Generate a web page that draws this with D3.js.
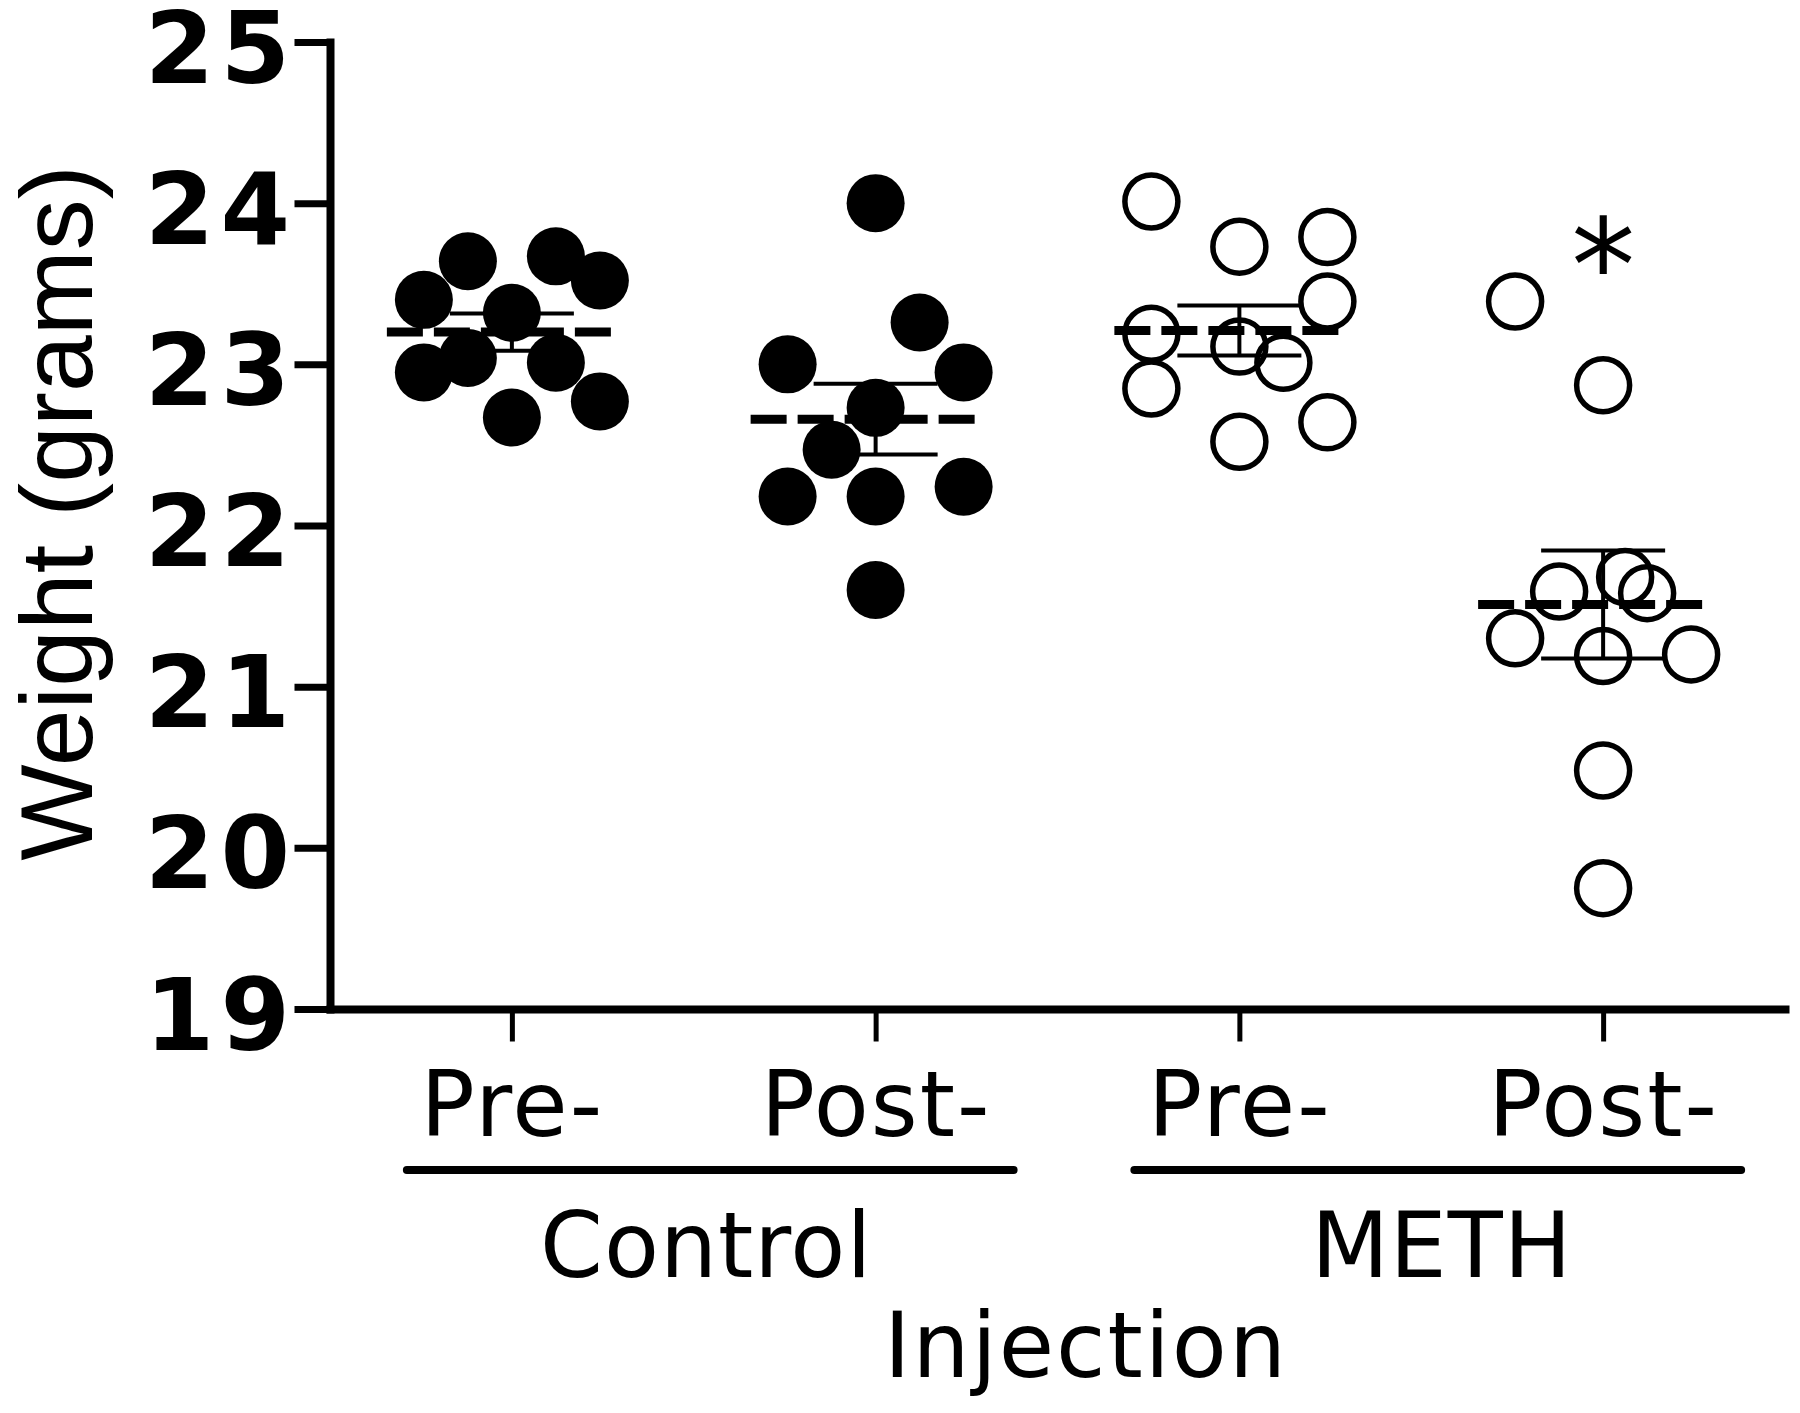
<!DOCTYPE html>
<html>
<head>
<meta charset="utf-8">
<script src="https://cdn.jsdelivr.net/npm/d3@7"></script>
<style>
  html, body { margin: 0; padding: 0; background: #fff; }
  svg { display: block; }
</style>
</head>
<body>
<div id="chart"></div>
<script>
// ---------------- data ----------------
const categories = ["Control Pre-", "Control Post-", "METH Pre-", "METH Post-"];
const tickLabels = ["Pre-", "Post-", "Pre-", "Post-"];
const groupNames = ["Control", "METH"];
const groupMembers = [["Control Pre-", "Control Post-"], ["METH Pre-", "METH Post-"]];
const filled = [true, true, false, false];

const controlPre  = [23.40, 23.64, 23.67, 23.52, 23.32, 22.95, 23.04, 23.01, 22.77, 22.67];
const controlPreSlot  = [-2, -1, 1, 2, 0, -2, -1, 1, 2, 0];
const controlPost = [24.00, 23.26, 23.00, 22.95, 22.73, 22.47, 22.18, 22.18, 22.24, 21.60];
const controlPostSlot = [0, 1, -2, 2, 0, -1, -2, 0, 2, 0];
const methPre     = [24.01, 23.73, 23.79, 23.39, 23.19, 23.11, 23.01, 22.85, 22.64, 22.52];
const methPreSlot     = [-2, 0, 2, 2, -2, 0, 1, -2, 2, 0];
const methPost    = [23.39, 22.87, 21.59, 21.68, 21.58, 21.30, 21.19, 21.20, 20.48, 19.75];
const methPostSlot    = [-2, 0, -1, 0.5, 1, -2, 0, 2, 0, 0];

const means = [23.20, 22.66, 23.21, 21.51];
const sems  = [0.115, 0.22, 0.155, 0.335];

const yTicks = [19, 20, 21, 22, 23, 24, 25];
const yLabel = "Weight (grams)";
const xLabel = "Injection";
const significance = {category: "METH Post-", label: "*", value: 23.33};

// ---------------- layout ----------------
const W = 1800, H = 1413;
const svg = d3.select("#chart").append("svg").attr("width", W).attr("height", H)
  .style("background", "#fff");

const x = d3.scalePoint().domain(categories).range([330, 1785]).padding(0.5);
const y = d3.scaleLinear().domain([19, 25]).range([1009, 42]);
const slotW = 44;

const series = [
  {vals: controlPre, slots: controlPreSlot},
  {vals: controlPost, slots: controlPostSlot},
  {vals: methPre, slots: methPreSlot},
  {vals: methPost, slots: methPostSlot}
];

// ---------------- axes ----------------
const yAxis = svg.append("g").attr("transform", "translate(330,0)")
  .call(d3.axisLeft(y).tickValues(yTicks).tickSize(32).tickSizeOuter(0).tickPadding(2).tickFormat(d3.format("d")));
yAxis.select(".domain").attr("stroke", "#000").attr("stroke-width", 8);
yAxis.selectAll(".tick line").attr("stroke", "#000").attr("stroke-width", 7);
yAxis.selectAll(".tick text")
  .attr("fill", "#000")
  .attr("dy", "0.40em")
  .style("font-family", "'DejaVu Sans', Verdana, sans-serif")
  .style("font-weight", "bold")
  .style("font-size", "100px")
  .style("letter-spacing", "6px");

const xAxis = svg.append("g").attr("transform", "translate(0,1009)")
  .call(d3.axisBottom(x).tickSize(30).tickSizeOuter(0).tickFormat((d, i) => tickLabels[i]));
xAxis.select(".domain").attr("stroke", "#000").attr("stroke-width", 8);
xAxis.selectAll(".tick line").attr("stroke", "#000").attr("stroke-width", 5);
xAxis.selectAll(".tick text")
  .attr("fill", "#000")
  .attr("y", 127).attr("dy", null)
  .style("font-family", "'DejaVu Sans', Verdana, sans-serif")
  .style("font-size", "90px")
  .style("letter-spacing", "2px");
svg.selectAll(".domain, .tick line").attr("stroke-linecap", "square");

// y axis title
svg.append("text")
  .attr("transform", "translate(92,513) rotate(-90)")
  .attr("text-anchor", "middle")
  .style("font-family", "'Liberation Sans', Arial, sans-serif")
  .style("font-size", "102px")
  .attr("fill", "#000")
  .text(yLabel);

// group bars & labels
groupMembers.forEach((mem, gi) => {
  const x0 = x(mem[0]) - 105, x1 = x(mem[1]) + 138;
  svg.append("line")
    .attr("x1", x0).attr("x2", x1).attr("y1", 1170).attr("y2", 1170)
    .attr("stroke", "#000").attr("stroke-width", 8).attr("stroke-linecap", "round");
  svg.append("text")
    .attr("x", (x0 + x1) / 2 - (gi === 0 ? 4 : -4)).attr("y", 1277)
    .attr("text-anchor", "middle")
    .style("font-family", "'DejaVu Sans', Verdana, sans-serif")
    .style("font-size", "90px")
    .style("letter-spacing", "1px")
    .attr("fill", "#000")
    .text(groupNames[gi]);
});

svg.append("text")
  .attr("x", 1086).attr("y", 1377)
  .attr("text-anchor", "middle")
  .style("font-family", "'DejaVu Sans', Verdana, sans-serif")
  .style("font-size", "90px")
  .style("letter-spacing", "2px")
  .attr("fill", "#000")
  .text(xLabel);

// ---------------- points ----------------
series.forEach((s, ci) => {
  const cx = x(categories[ci]);
  const pts = s.vals.map((v, i) => ({v, slot: s.slots[i]}));
  svg.append("g").selectAll("circle").data(pts).join("circle")
    .attr("cx", d => cx + d.slot * slotW)
    .attr("cy", d => y(d.v))
    .attr("r", filled[ci] ? 29 : 26.5)
    .attr("fill", filled[ci] ? "#000" : "none")
    .attr("stroke", filled[ci] ? "none" : "#000")
    .attr("stroke-width", filled[ci] ? 0 : 5.5);
});

// ---------------- mean & SEM ----------------
categories.forEach((c, ci) => {
  const cx = x(c);
  const g = svg.append("g");
  const m = means[ci], e = sems[ci];
  g.append("line").attr("x1", cx).attr("x2", cx).attr("y1", y(m - e)).attr("y2", y(m + e))
    .attr("stroke", "#000").attr("stroke-width", 4);
  [m - e, m + e].forEach(v => {
    g.append("line").attr("x1", cx - 62).attr("x2", cx + 62).attr("y1", y(v)).attr("y2", y(v))
      .attr("stroke", "#000").attr("stroke-width", 4);
  });
  g.append("line").attr("x1", cx - 125).attr("x2", cx + 107).attr("y1", y(m)).attr("y2", y(m))
    .attr("stroke", "#000").attr("stroke-width", 9)
    .attr("stroke-dasharray", "36,11");
});

// significance asterisk
svg.append("text")
  .attr("x", x(significance.category)).attr("y", y(significance.value))
  .attr("text-anchor", "middle")
  .style("font-family", "'DejaVu Sans', Verdana, sans-serif")
  .style("font-size", "128px")
  .attr("fill", "#000")
  .text(significance.label);
</script>
</body>
</html>
